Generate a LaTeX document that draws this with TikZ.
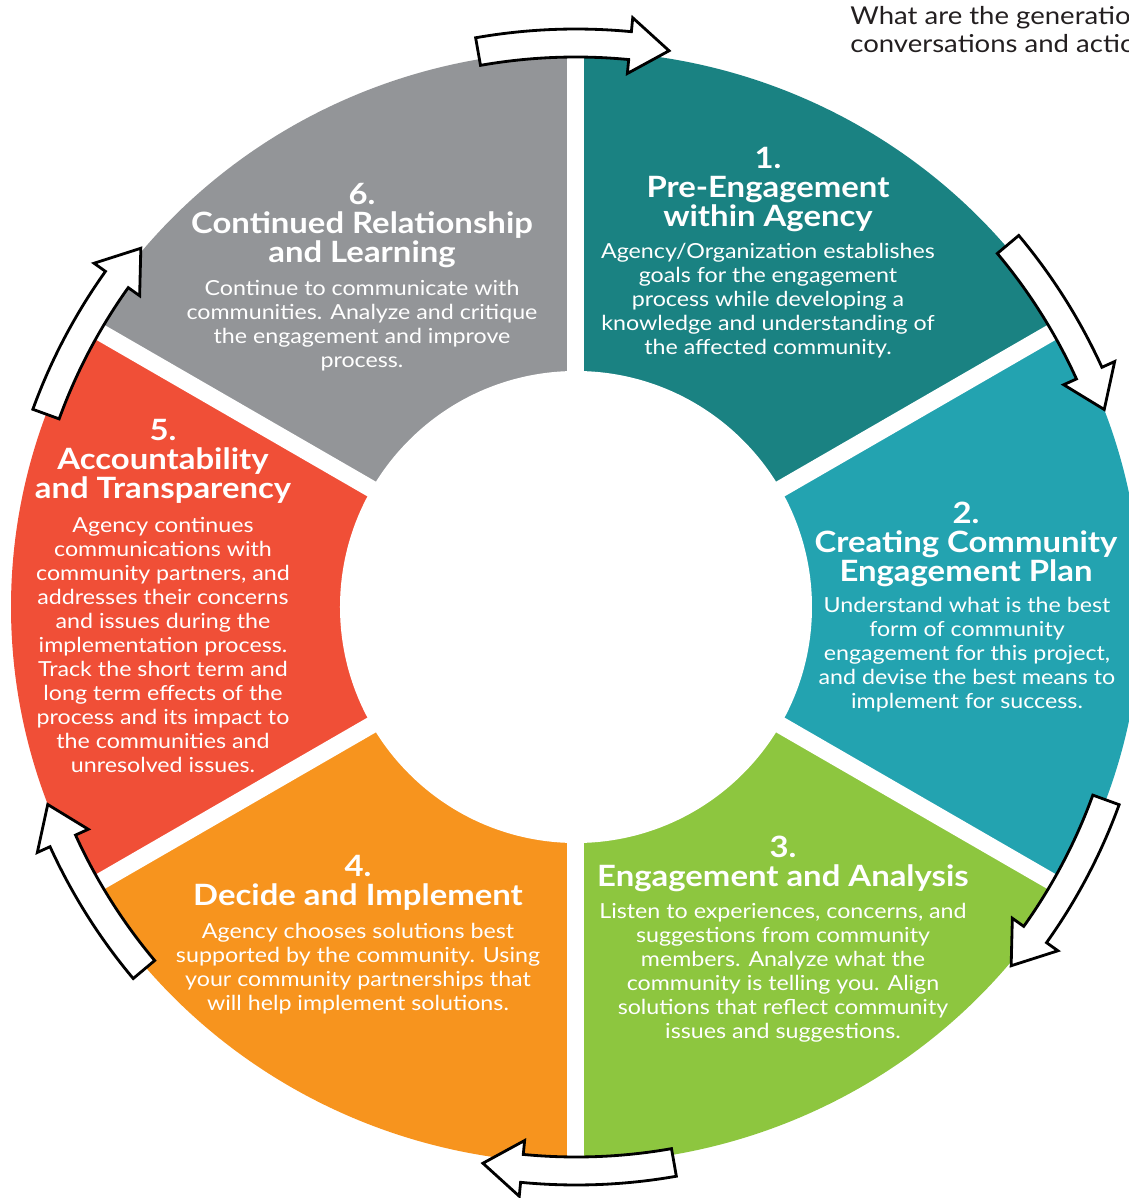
\documentclass[tikz,border=0pt]{standalone}
\usepackage{fontspec}
\setmainfont{Lato}[FakeStretch=1.12]
\definecolor{segone}{HTML}{1A8282}
\definecolor{segtwo}{HTML}{23A3B0}
\definecolor{segthree}{HTML}{8DC63F}
\definecolor{segfour}{HTML}{F7941E}
\definecolor{segfive}{HTML}{F04F37}
\definecolor{segsix}{HTML}{939598}
\definecolor{notetext}{HTML}{231F20}
\begin{document}
\begin{tikzpicture}[x=0.02cm, y=0.02cm,
    title/.style={text=white, align=center, inner sep=0pt, font=\fontsize{16.7}{16.5}\selectfont\bfseries},
    body/.style={text=white, align=center, inner sep=0pt, font=\fontsize{11.8}{13.66}\selectfont},
    cyclearrow/.style={draw=black, fill=white, line width=1.6pt, line join=miter}]
  \useasboundingbox (-576,-591) rectangle (553,607);

  % ring segments, clockwise from the top
  \foreach \a/\b/\c in {30/90/segone, -30/30/segtwo, -90/-30/segthree, 210/270/segfour, 150/210/segfive, 90/150/segsix}
    \fill[\c] (0,0) -- (\a:565 and 556) arc[start angle=\a, end angle=\b, x radius=565, y radius=556] -- cycle;

  % white gaps and the hub
  \foreach \g in {90,30,-30,-90,-150,150}
    \draw[white, line width=0.34cm] (0,0) -- (\g:600);
  \fill[white] (0,0) circle[radius=236];

  % arrows over the gaps
  \foreach \g in {90,30,-30,-90,-150,150}
    \draw[cyclearrow] ({\g+10}:578) arc[start angle=\g+10, end angle=\g-5.5, radius=578]
      -- ({\g-5.5}:592) -- ({\g-9.5}:564) -- ({\g-5.5}:536) -- ({\g-5.5}:550)
      arc[start angle=\g-5.5, end angle=\g+10, radius=550] -- cycle;

  % 1
  \node[title] (t1) at (192,417) {1.\\Pre-Engagement\\within Agency};
  \node[body] (b1) at (192,306) {Agency/Organization establishes\\goals for the engagement\\process while developing a\\knowledge and understanding of\\the affected community.};
  % 2
  \node[title] (t2) at (390,63) {2.\\Creating Community\\Engagement Plan};
  \node[body] (b2) at (391,-48) {Understand what is the best\\form of community\\engagement for this project,\\and devise the best means to\\implement for success.};
  % 3
  \node[title] (t3) at (207,-257) {3.\\Engagement and Analysis};
  \node[body] (b3) at (207,-366) {Listen to experiences, concerns, and\\suggestions from community\\members. Analyze what the\\community is telling you. Align\\solutions that reflect community\\issues and suggestions.};
  % 4
  \node[title] (t4) at (-218,-276) {4.\\Decide and Implement};
  \node[body] (b4) at (-218,-362) {Agency chooses solutions best\\supported by the community. Using\\your community partnerships that\\will help implement solutions.};
  % 5
  \node[title] (t5) at (-413,146) {5.\\Accountability\\and Transparency};
  \node[body] (b5) at (-413,-38) {Agency continues\\communications with\\community partners, and\\addresses their concerns\\and issues during the\\implementation process.\\Track the short term and\\long term effects of the\\process and its impact to\\the communities and\\unresolved issues.};
  % 6
  \node[title] (t6) at (-214,381) {6.\\Continued Relationship\\and Learning};
  \node[body] (b6) at (-214,281) {Continue to communicate with\\communities. Analyze and critique\\the engagement and improve\\process.};

  \node[anchor=west, align=left, inner sep=0pt, text=notetext, font=\fontsize{14}{15.9}\selectfont] (note) at (274,577) {What are the generatio\\conversations and actio};
\end{tikzpicture}
\end{document}
